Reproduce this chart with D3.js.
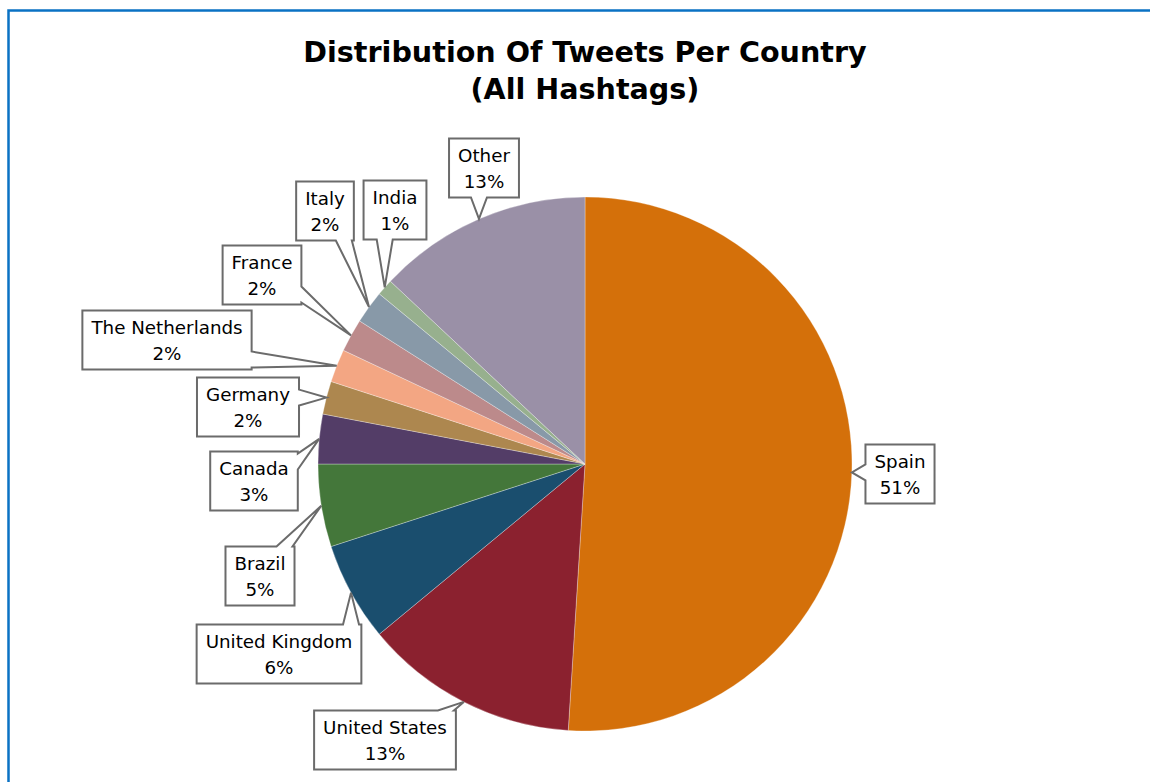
<!DOCTYPE html>
<html>
<head>
<meta charset="utf-8">
<script src="https://cdn.jsdelivr.net/npm/d3@7"></script>
<style>
    body { margin: 0; background: #fff; }
    text { font-family: "DejaVu Sans", Verdana, sans-serif; }
</style>
</head>
<body>
<script>
// data
let countries = ["Spain", "United States", "United Kingdom", "Brazil", "Canada",
    "Germany", "The Netherlands", "France", "Italy", "India", "Other"];
let shares = [51, 13, 6, 5, 3, 2, 2, 2, 2, 1, 13];
let colors = ["#D4700A", "#8B212F", "#1A4E6E", "#44773A", "#533D67",
    "#AD874F", "#F3A683", "#BC8A8B", "#8899A8", "#97B08E", "#9A90A7"];

// where each callout box sits (layout only)
let calloutCenters = [[900, 474], [385, 740], [279, 654], [260, 576], [254, 481],
    [248, 407], [167, 340], [262, 275], [325, 211], [395, 210], [484, 168]];

let w = 1150,
    h = 782;

let svg = d3.select("body")
    .append("svg")
    .attr("width", w)
    .attr("height", h);

// blue frame round the chart area
svg.append("rect")
    .attr("x", 8.5)
    .attr("y", 10.5)
    .attr("width", w + 20)
    .attr("height", h + 20)
    .style("fill", "none")
    .style("stroke", "#0A72C4")
    .style("stroke-width", 2.5);

// title
let title = svg.append("text")
    .attr("text-anchor", "middle")
    .style("font-weight", "bold")
    .style("font-size", "28.6px")
    .style("fill", "#000");
title.append("tspan").attr("x", 585).attr("y", 62).text("Distribution Of Tweets Per Country");
title.append("tspan").attr("x", 585).attr("y", 99).text("(All Hashtags)");

let cx = 585,
    cy = 464,
    radius = 267;

let rows = countries.map(function(c, i) {
    return { country: c, share: shares[i], color: colors[i], center: calloutCenters[i] };
});

let pie = d3.pie()
    .sort(null)
    .value(function(d) { return d.share; });

let arc = d3.arc()
    .innerRadius(0)
    .outerRadius(radius);

let g = svg.append("g")
    .attr("transform", "translate(" + cx + "," + cy + ")");

let arcs = pie(rows);

g.selectAll(".slice")
    .data(arcs)
    .enter()
    .append("path")
    .attr("class", "slice")
    .attr("d", arc)
    .style("fill", function(d) { return d.data.color; })
    .style("stroke", "#fff")
    .style("stroke-opacity", 0.5)
    .style("stroke-width", 0.6);

// callout labels
let labels = svg.append("g");

arcs.forEach(function(d) {
    let mid = (d.startAngle + d.endAngle) / 2;
    let tip = [cx + radius * Math.sin(mid), cy - radius * Math.cos(mid)];
    let c = d.data.center;

    let lab = labels.append("g");
    let path = lab.append("path")
        .style("fill", "#fff")
        .style("stroke", "#6b6b6b")
        .style("stroke-width", 2);

    let txt = lab.append("text")
        .attr("text-anchor", "middle")
        .style("font-size", "18.3px")
        .style("fill", "#000");
    txt.append("tspan").attr("x", c[0]).attr("y", c[1] - 6).text(d.data.country);
    txt.append("tspan").attr("x", c[0]).attr("y", c[1] + 20).text(d.data.share + "%");

    let tw = 0;
    txt.selectAll("tspan").each(function() {
        tw = Math.max(tw, this.getComputedTextLength());
    });
    let hw = tw / 2 + 9,
        hh = 29.5;
    let x0 = c[0] - hw, x1 = c[0] + hw, y0 = c[1] - hh, y1 = c[1] + hh;

    // pick the edge the pointer leaves from
    let dx = (tip[0] - c[0]) / hw,
        dy = (tip[1] - c[1]) / hh;
    let side = Math.abs(dx) > Math.abs(dy) ? (dx > 0 ? "right" : "left") : (dy > 0 ? "bottom" : "top");
    let half = 8;
    let pts = [];
    if (side === "top") {
        let b = Math.max(x0 + half + 2, Math.min(x1 - half - 2, tip[0]));
        pts = [[x0, y0], [b - half, y0], tip, [b + half, y0], [x1, y0], [x1, y1], [x0, y1]];
    } else if (side === "right") {
        let b = Math.max(y0 + half + 2, Math.min(y1 - half - 2, tip[1]));
        pts = [[x0, y0], [x1, y0], [x1, b - half], tip, [x1, b + half], [x1, y1], [x0, y1]];
    } else if (side === "bottom") {
        let b = Math.max(x0 + half + 2, Math.min(x1 - half - 2, tip[0]));
        pts = [[x0, y0], [x1, y0], [x1, y1], [b + half, y1], tip, [b - half, y1], [x0, y1]];
    } else {
        let b = Math.max(y0 + half + 2, Math.min(y1 - half - 2, tip[1]));
        pts = [[x0, y0], [x1, y0], [x1, y1], [x0, y1], [x0, b + half], tip, [x0, b - half]];
    }
    path.attr("d", d3.line()(pts) + "Z");
});
</script>
</body>
</html>
